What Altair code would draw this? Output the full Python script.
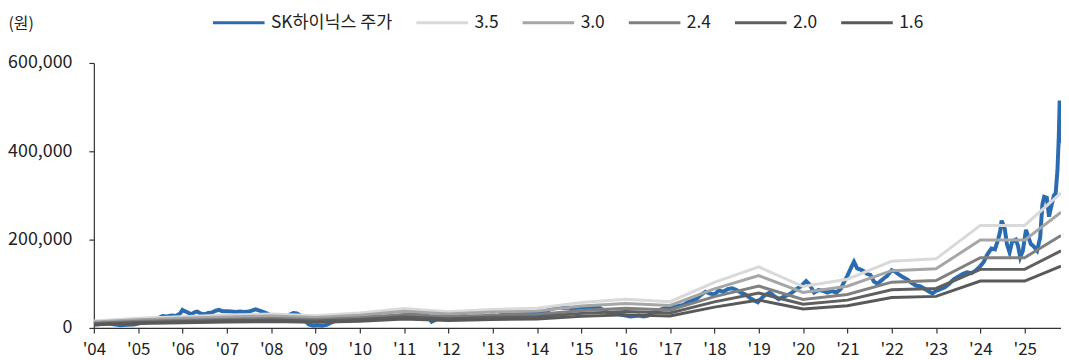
import altair as alt
import pandas as pd

FONT = "Noto Sans CJK KR"

# SK hynix share price (won), time as fractional year
price_t = [
    2004.00, 2004.15, 2004.30, 2004.45, 2004.60, 2004.75, 2004.90, 2005.05, 2005.20, 2005.35,
    2005.45, 2005.55, 2005.65, 2005.75, 2005.85, 2005.95, 2006.00, 2006.05, 2006.12, 2006.20,
    2006.28, 2006.33, 2006.42, 2006.50, 2006.58, 2006.66, 2006.75, 2006.82, 2006.90, 2007.00,
    2007.10, 2007.20, 2007.30, 2007.40, 2007.50, 2007.58, 2007.65, 2007.72, 2007.80, 2007.90,
    2008.00, 2008.10, 2008.20, 2008.30, 2008.40, 2008.50, 2008.58, 2008.66, 2008.75, 2008.85,
    2008.95, 2009.05, 2009.15, 2009.25, 2009.35, 2009.45, 2009.55, 2009.70, 2009.85, 2010.00,
    2010.15, 2010.30, 2010.45, 2010.60, 2010.75, 2010.90, 2011.00, 2011.10, 2011.20, 2011.30,
    2011.40, 2011.50, 2011.58, 2011.62, 2011.68, 2011.80, 2011.90, 2012.00, 2012.10, 2012.20,
    2012.30, 2012.40, 2012.50, 2012.60, 2012.70, 2012.80, 2012.90, 2013.00, 2013.10, 2013.20,
    2013.30, 2013.40, 2013.50, 2013.60, 2013.70, 2013.80, 2013.90, 2014.00, 2014.10, 2014.20,
    2014.30, 2014.40, 2014.50, 2014.60, 2014.70, 2014.80, 2014.90, 2015.00, 2015.10, 2015.20,
    2015.30, 2015.40, 2015.50, 2015.60, 2015.70, 2015.80, 2015.90, 2016.00, 2016.10, 2016.20,
    2016.30, 2016.40, 2016.50, 2016.60, 2016.70, 2016.80, 2016.90, 2017.00, 2017.10, 2017.20,
    2017.30, 2017.40, 2017.50, 2017.60, 2017.70, 2017.80, 2017.90, 2018.00, 2018.10, 2018.20,
    2018.30, 2018.40, 2018.50, 2018.60, 2018.70, 2018.80, 2018.90, 2018.98, 2019.05, 2019.15,
    2019.25, 2019.35, 2019.45, 2019.55, 2019.65, 2019.75, 2019.85, 2019.95, 2020.07, 2020.15,
    2020.25, 2020.35, 2020.45, 2020.55, 2020.65, 2020.75, 2020.85, 2020.92, 2021.00, 2021.10,
    2021.15, 2021.22, 2021.30, 2021.38, 2021.45, 2021.52, 2021.60, 2021.68, 2021.75, 2021.82,
    2021.90, 2022.00, 2022.07, 2022.15, 2022.25, 2022.35, 2022.45, 2022.55, 2022.65, 2022.75,
    2022.85, 2022.92, 2023.00, 2023.10, 2023.20, 2023.30, 2023.40, 2023.50, 2023.60, 2023.70,
    2023.80, 2023.90, 2024.00, 2024.08, 2024.15, 2024.25, 2024.33, 2024.40, 2024.45, 2024.48,
    2024.55, 2024.60, 2024.66, 2024.72, 2024.80, 2024.85, 2024.90, 2024.96, 2025.03, 2025.08,
    2025.14, 2025.20, 2025.28, 2025.35, 2025.40, 2025.44, 2025.50, 2025.55, 2025.60, 2025.66,
    2025.70, 2025.74, 2025.77, 2025.79, 2025.81, 2025.82,
]
price_v = [
    7000, 9000, 11000, 8000, 6000, 7000, 8000, 11000, 14000, 17000,
    22000, 27000, 26000, 28000, 27000, 33000, 41000, 38000, 35000, 31000,
    36000, 37000, 32000, 31000, 34000, 35000, 39000, 41000, 38000, 38000,
    37000, 36000, 37000, 36000, 37000, 40000, 42000, 40000, 37000, 33000,
    28000, 24000, 22000, 25000, 29000, 34000, 33000, 28000, 18000, 8000,
    5000, 6000, 5000, 7000, 12000, 16000, 18000, 20000, 22000, 24000,
    22000, 25000, 24000, 21000, 22000, 26000, 29000, 32000, 35000, 36000,
    33000, 30000, 20000, 14000, 17000, 22000, 23000, 27000, 31000, 32000,
    29000, 26000, 24000, 25000, 24000, 25000, 27000, 28000, 26000, 30000,
    33000, 30000, 28000, 34000, 37000, 32000, 35000, 36000, 35000, 38000,
    42000, 45000, 47000, 45000, 46000, 44000, 45000, 46000, 46000, 47000,
    48000, 46000, 40000, 35000, 31000, 32000, 30000, 28000, 26000, 27000,
    28000, 26000, 28000, 35000, 38000, 42000, 45000, 46000, 48000, 50000,
    52000, 58000, 62000, 66000, 75000, 82000, 78000, 76000, 85000, 82000,
    88000, 90000, 86000, 80000, 76000, 68000, 62000, 58000, 66000, 75000,
    80000, 72000, 65000, 70000, 74000, 80000, 88000, 94000, 106000, 98000,
    80000, 86000, 84000, 80000, 84000, 80000, 88000, 103000, 118000, 140000,
    150000, 135000, 132000, 128000, 122000, 120000, 105000, 100000, 106000, 112000,
    118000, 131000, 128000, 122000, 115000, 110000, 102000, 96000, 94000, 88000,
    82000, 78000, 84000, 88000, 92000, 100000, 110000, 116000, 122000, 126000,
    124000, 130000, 140000, 150000, 165000, 180000, 178000, 200000, 220000, 243000,
    225000, 190000, 171000, 196000, 200000, 186000, 160000, 175000, 222000, 207000,
    190000, 185000, 175000, 205000, 280000, 297000, 295000, 252000, 275000, 300000,
    305000, 357000, 432000, 515000, 455000, 418000,
]

# PBR band lines (won), one value per year-start knot
band_t = [2004, 2005, 2006, 2007, 2008, 2009, 2010, 2011, 2012, 2013, 2014, 2015,
          2016, 2017, 2018, 2019, 2020, 2021, 2022, 2023, 2024, 2025, 2025.82]
band_35 = [15800, 21700, 25600, 29100, 31500, 27700, 33600, 44100, 36800, 42000, 44500, 57800,
           64800, 59500, 103300, 138300, 93800, 110300, 151200, 156500, 232100, 232100, 305600]
band_30 = [13500, 18600, 21900, 24900, 27000, 23700, 28800, 37800, 31500, 36000, 38100, 49500,
           55500, 51000, 88500, 118500, 80400, 94500, 129600, 134100, 198900, 198900, 261900]
band_24 = [10800, 14900, 17500, 19900, 21600, 19000, 23000, 30200, 25200, 28800, 30500, 39600,
           44400, 40800, 70800, 94800, 64300, 75600, 103700, 107300, 159100, 159100, 209500]
band_20 = [9000, 12400, 14600, 16600, 18000, 15800, 19200, 25200, 21000, 24000, 25400, 33000,
           37000, 34000, 59000, 79000, 53600, 63000, 86400, 89400, 132600, 132600, 174600]
band_16 = [7200, 9900, 11700, 13300, 14400, 12600, 15400, 20200, 16800, 19200, 20300, 26400,
           29600, 27200, 47200, 63200, 42900, 50400, 69100, 71500, 106100, 106100, 139700]

series_names = ["SK하이닉스 주가", "3.5", "3.0", "2.4", "2.0", "1.6"]
series_colors = ["#2b6cb0", "#d9d9d9", "#a6a6a6", "#808080", "#5f5f5f", "#595959"]
year_ticks = list(range(2004, 2026))
y_ticks = [0, 200000, 400000, 600000]

price_df = pd.DataFrame({"t": price_t, "v": price_v, "s": series_names[0]})
band_frames = []
for name, vals in zip(series_names[1:], [band_35, band_30, band_24, band_20, band_16]):
    band_frames.append(pd.DataFrame({"t": band_t, "v": vals, "s": name}))
band_df = pd.concat(band_frames, ignore_index=True)

x_enc = alt.X(
    "t:Q",
    scale=alt.Scale(domain=[2004, 2025.82], nice=False, zero=False),
    axis=alt.Axis(
        values=year_ticks,
        labelExpr="\"'\" + substring(toString(datum.value), 2, 4)",
        title=None, grid=False, tickSize=5, labelPadding=9,
        labelFlush=False, labelOverlap=False, labelFontSize=17,
    ),
)
y_enc = alt.Y(
    "v:Q",
    scale=alt.Scale(domain=[0, 600000], nice=False),
    axis=alt.Axis(
        values=y_ticks, labelExpr="format(datum.value, ',')", grid=False,
        tickSize=5, labelPadding=17, title="(원)", titleAngle=0,
        titleAlign="left", titleBaseline="middle", titleX=-86.5, titleY=-40,
        titleFontSize=16, titleFontWeight="normal", titleColor="#222222",
        labelFlush=False, labelFontSize=18,
    ),
)
color_enc = alt.Color(
    "s:N",
    scale=alt.Scale(domain=series_names, range=series_colors),
    sort=series_names,
    legend=alt.Legend(
        title=None, orient="none", legendX=118.5, legendY=-68,
        direction="horizontal", columns=6, symbolType="stroke",
        symbolSize=2704, symbolStrokeWidth=3, labelOffset=5,
        columnPadding=17, labelFontSize=17.5, labelFont=FONT,
        labelColor="#222222",
    ),
)

price_line = alt.Chart(price_df).mark_line(strokeWidth=4, clip=True).encode(
    x=x_enc, y=y_enc, color=color_enc
)
band_lines = alt.Chart(band_df).mark_line(strokeWidth=3, clip=True).encode(
    x=x_enc, y=y_enc, color=color_enc, detail="s:N"
)

chart = alt.layer(price_line, band_lines).properties(
    width=974.5, height=267,
    autosize=alt.AutoSizeParams(type="none"),
    padding={"left": 86.5, "top": 54, "right": 0, "bottom": 40},
).configure_axis(
    labelFont=FONT, titleFont=FONT, labelColor="#222222",
    domainColor="#333333", tickColor="#333333", domainWidth=1.2, tickWidth=1.2,
).configure_view(stroke=None)

chart.save("out.html", embed_options={"renderer": "svg", "actions": False})
